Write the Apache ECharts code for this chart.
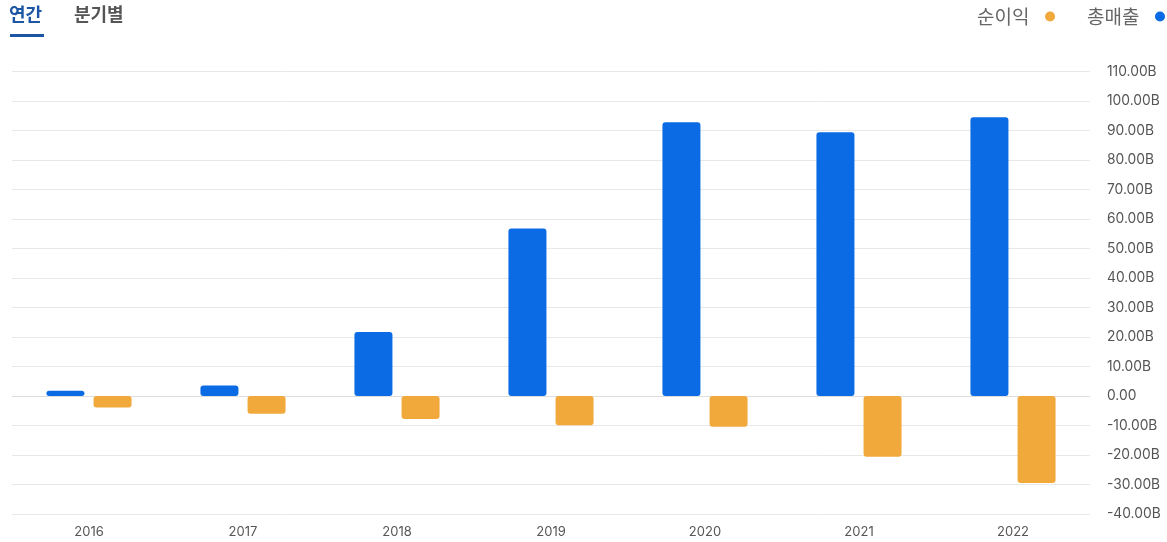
<!DOCTYPE html>
<html>
<head>
<meta charset="utf-8">
<script src="https://cdn.jsdelivr.net/npm/echarts@6/dist/echarts.min.js"></script>
<style>
html,body{margin:0;padding:0;background:#fff;}
#c{width:1167px;height:542px;}
</style>
</head>
<body>
<div id="c"></div>
<script>
const categories = ['2016','2017','2018','2019','2020','2021','2022'];
const revenue = [1.8, 3.6, 21.7, 56.8, 92.8, 89.4, 94.5];
const netIncome = [-3.9, -6.0, -7.8, -9.9, -10.4, -20.6, -29.5];
const seriesNames = ['총매출', '순이익'];
const tabs = ['연간', '분기별'];

const chart = echarts.init(document.getElementById('c'), null, {renderer:'canvas'});
const font = 'Inter, Roboto, "Noto Sans CJK KR", sans-serif';
chart.setOption({
  animation:false,
  textStyle:{fontFamily:font},
  graphic:[
    {type:'text', left:9, top:5, style:{text:tabs[0], font:'bold 18px "Noto Sans CJK KR", sans-serif', fill:'#1b55a3'}},
    {type:'rect', left:10, top:34, shape:{width:34, height:3}, style:{fill:'#1b55a3'}},
    {type:'text', left:74, top:5, style:{text:tabs[1], font:'bold 18px "Noto Sans CJK KR", sans-serif', fill:'#555'}}
  ],
  legend:{
    data:[seriesNames[1], seriesNames[0]],
    right:-3, top:2,
    icon:'circle', itemWidth:31, itemHeight:10, itemGap:32,
    align:'right',
    textStyle:{color:'#666', fontSize:19, fontFamily:'"Noto Sans CJK KR", sans-serif'}
  },
  grid:{left:12, right:77, top:71.5, bottom:28, containLabel:false},
  xAxis:{
    type:'category', data:categories,
    axisLine:{lineStyle:{color:'#ddd'}},
    axisTick:{show:false},
    axisLabel:{color:'#555', fontSize:13, margin:12}
  },
  yAxis:{
    type:'value', position:'right', min:-40, max:110, interval:10,
    axisLine:{show:false}, axisTick:{show:false},
    splitLine:{lineStyle:{color:'#e8e8e8'}},
    axisLabel:{color:'#555', fontSize:13.8, margin:17, align:'left', padding:[2,0,0,0],
      formatter:v => v === 0 ? '0.00' : v.toFixed(2) + 'B'}
  },
  series:[
    {name:seriesNames[0], type:'bar', data:revenue, barWidth:38, barGap:'24%',
     itemStyle:{color:'#0a6be4', borderRadius:3}},
    {name:seriesNames[1], type:'bar', data:netIncome, barWidth:38,
     itemStyle:{color:'#f1a93c', borderRadius:3}}
  ]
});
</script>
</body>
</html>
